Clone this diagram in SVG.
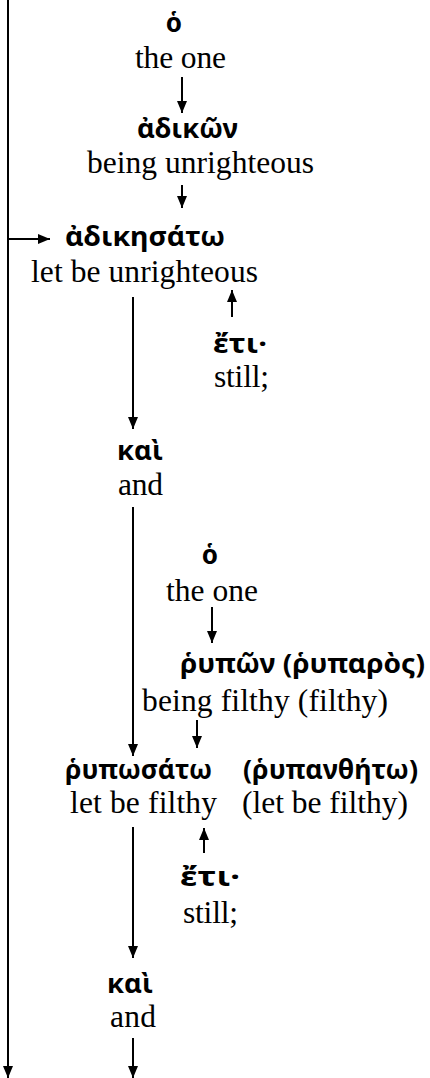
<svg xmlns="http://www.w3.org/2000/svg" width="430" height="1078" viewBox="0 0 430 1078">
<style>
.gk{font-family:"Noto Sans","DejaVu Sans",sans-serif;font-weight:bold;font-size:26px;fill:#000}
.en{font-family:"Liberation Serif","Times New Roman",serif;font-size:31.5px;fill:#000}
.ln{stroke:#000;stroke-width:2;fill:none;marker-end:url(#ah)}
</style>
<defs>
<marker id="ah" markerUnits="userSpaceOnUse" markerWidth="12" markerHeight="10" refX="12" refY="5" orient="auto">
<path d="M0,0 L12,5 L0,10 z" fill="#000"/>
</marker>
</defs>
<rect width="430" height="1078" fill="#fff"/>
<g id="connectors">
<line class="ln" x1="8" y1="0" x2="8" y2="1078"/>
<line class="ln" x1="8" y1="239" x2="50" y2="239"/>
<line class="ln" x1="182" y1="77" x2="182" y2="113"/>
<line class="ln" x1="182" y1="185" x2="182" y2="208"/>
<line class="ln" x1="232" y1="317" x2="232" y2="290"/>
<line class="ln" x1="133" y1="297" x2="133" y2="429"/>
<line class="ln" x1="212" y1="607" x2="212" y2="643"/>
<line class="ln" x1="133" y1="507" x2="133" y2="756"/>
<line class="ln" x1="197" y1="720" x2="197" y2="748"/>
<line class="ln" x1="204" y1="853" x2="204" y2="828"/>
<line class="ln" x1="133" y1="827" x2="133" y2="958"/>
<line class="ln" x1="133" y1="1038" x2="133" y2="1078"/>
</g>
<g id="n1"><text class="gk" x="174" y="32" text-anchor="middle">ὁ</text><text class="en" x="135" y="68" textLength="91">the one</text></g>
<g id="n2"><text class="gk" x="137" y="138" textLength="101" lengthAdjust="spacingAndGlyphs">ἀδικῶν</text><text class="en" x="87" y="173" textLength="227">being unrighteous</text></g>
<g id="n3"><text class="gk" x="65" y="246" textLength="160" lengthAdjust="spacingAndGlyphs">ἀδικησάτω</text><text class="en" x="31" y="282" textLength="227">let be unrighteous</text></g>
<g id="n4"><text class="gk" x="213" y="353" textLength="54" lengthAdjust="spacingAndGlyphs">ἔτι·</text><text class="en" x="214" y="387" textLength="55">still;</text></g>
<g id="n5"><text class="gk" x="117" y="460" textLength="46" lengthAdjust="spacingAndGlyphs">καὶ</text><text class="en" x="118" y="495" textLength="45">and</text></g>
<g id="n6"><text class="gk" x="210" y="564" text-anchor="middle">ὁ</text><text class="en" x="166" y="601" textLength="92">the one</text></g>
<g id="n7"><text class="gk" x="180" y="673" textLength="245" lengthAdjust="spacingAndGlyphs">ῥυπῶν (ῥυπαρὸς)</text><text class="en" x="142" y="711" textLength="246">being filthy (filthy)</text></g>
<g id="n8"><text class="gk" x="65" y="779" textLength="147" lengthAdjust="spacingAndGlyphs">ῥυπωσάτω</text><text class="gk" x="243" y="779" textLength="175" lengthAdjust="spacingAndGlyphs">(ῥυπανθήτω)</text><text class="en" x="70" y="813" textLength="147">let be filthy</text><text class="en" x="242" y="813" textLength="166">(let be filthy)</text></g>
<g id="n9"><text class="gk" x="180" y="886" textLength="60" lengthAdjust="spacingAndGlyphs">ἔτι·</text><text class="en" x="183" y="923" textLength="55">still;</text></g>
<g id="n10"><text class="gk" x="107" y="993" textLength="46" lengthAdjust="spacingAndGlyphs">καὶ</text><text class="en" x="110" y="1027" textLength="46">and</text></g>
</svg>
